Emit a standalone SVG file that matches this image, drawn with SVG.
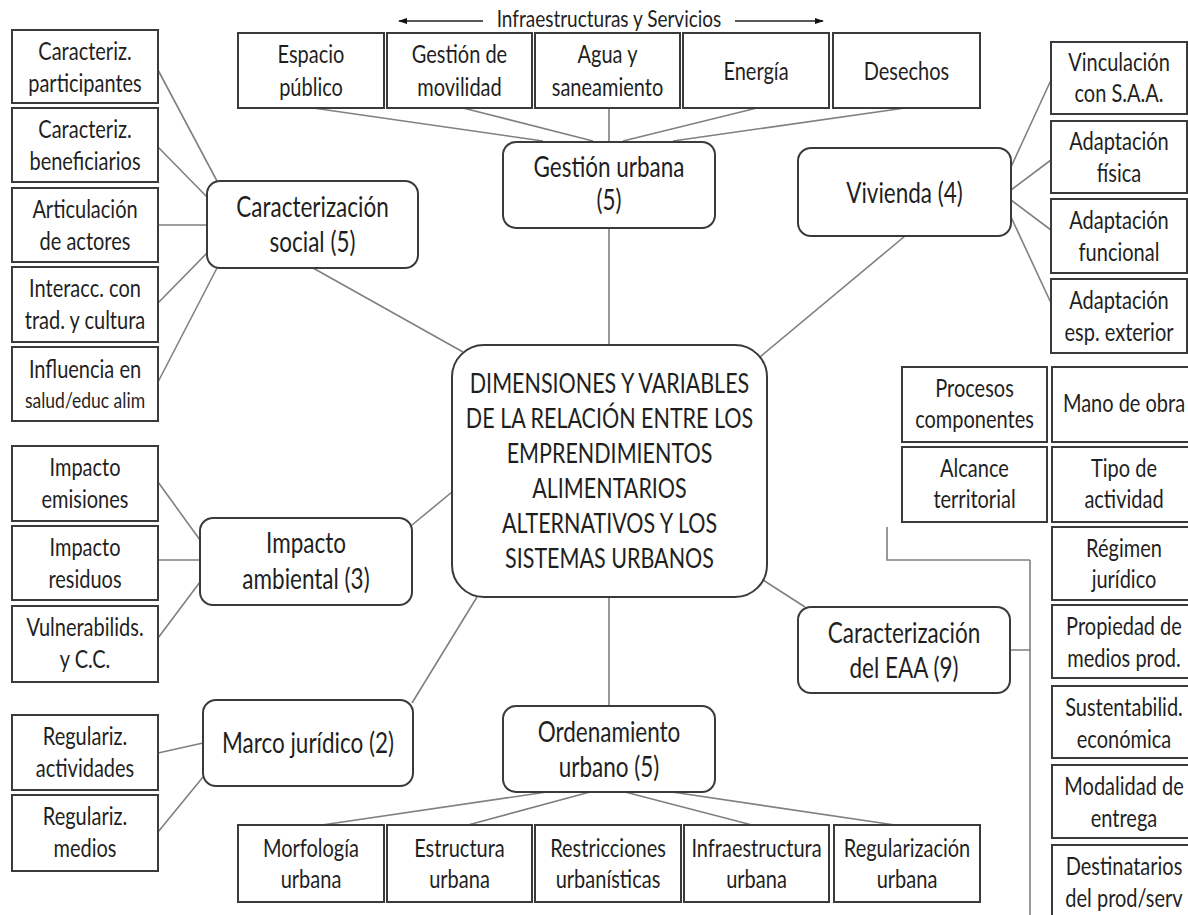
<svg xmlns="http://www.w3.org/2000/svg" width="1188" height="915" viewBox="0 0 1188 915">
<style>
  .bx{fill:#fff;stroke:#3a3a3a;stroke-width:2}
  .rn{fill:#fff;stroke:#3a3a3a;stroke-width:2}
  .cn{fill:none;stroke:#808080;stroke-width:1.6}
  text{font-family:Lato,"Open Sans","Liberation Sans",sans-serif;fill:#1f1f1f;text-anchor:middle}
  .s{font-size:20px}
  .m{font-size:22.5px}
  .c{font-size:21.5px}
  .l{font-size:19px}
  .xs{font-size:17.5px}
</style>
<defs>
  <marker id="ah" viewBox="0 0 10 10" refX="9" refY="5" markerWidth="7" markerHeight="7" orient="auto">
    <path d="M0,1.5 L10,5 L0,8.5 Z" fill="#111"/>
  </marker>
</defs>
<rect width="1188" height="915" fill="#fff"/>

<g id="connectors">
  <path class="cn" d="M313,108 L543,141 M463,108 L593,141 M609,108 L609,142 M757,108 L623,141 M905,108 L673,141 M609,228 L609,345"/>
  <path class="cn" d="M158,70 L217,181 M158,147 L207,197 M158,225 L207,225 M158,303 L207,253 M158,382 L217,268 M313,268 L463,352"/>
  <path class="cn" d="M1011,167 L1051,80 M1011,190 L1051,160 M1011,200 L1051,230 M1011,217 L1051,303 M905,236 L760,357"/>
  <path class="cn" d="M158,482 L200,540 M158,560 L200,560 M158,638 L200,582 M412,525 L452,492"/>
  <path class="cn" d="M158,753 L203,743 M158,832 L203,777 M412,703 L477,597"/>
  <path class="cn" d="M609,597 L609,706 M547,792 L322,825 M590,792 L468,825 M625,792 L752,825 M672,792 L895,825"/>
  <path class="cn" d="M763,580 L805,607 M1010,650 H1030 M1030,560 V915 M1030,560 H887 V527"/>
  <path d="M483,21 L399,21" fill="none" stroke="#222" stroke-width="1.3" marker-end="url(#ah)"/>
  <path d="M735,21 L823,21" fill="none" stroke="#222" stroke-width="1.3" marker-end="url(#ah)"/>
</g>

<g id="label-infra">
  <text class="l" transform="translate(609,27) scale(1,1.25)">Infraestructuras y Servicios</text>
</g>

<g id="n-espacio"><rect class="bx" x="238" y="33" width="146" height="75"/>
  <text class="s" transform="translate(311,63) scale(1,1.25)">Espacio</text>
  <text class="s" transform="translate(311,96) scale(1,1.25)">público</text></g>
<g id="n-movilidad"><rect class="bx" x="387" y="33" width="145" height="75"/>
  <text class="s" transform="translate(459.5,63) scale(1,1.25)">Gestión de</text>
  <text class="s" transform="translate(459.5,96) scale(1,1.25)">movilidad</text></g>
<g id="n-agua"><rect class="bx" x="535" y="33" width="145" height="75"/>
  <text class="s" transform="translate(607.5,63) scale(1,1.25)">Agua y</text>
  <text class="s" transform="translate(607.5,96) scale(1,1.25)">saneamiento</text></g>
<g id="n-energia"><rect class="bx" x="683" y="33" width="146" height="75"/>
  <text class="s" transform="translate(756,80) scale(1,1.25)">Energía</text></g>
<g id="n-desechos"><rect class="bx" x="833" y="33" width="147" height="75"/>
  <text class="s" transform="translate(906.5,80) scale(1,1.25)">Desechos</text></g>

<g id="n-gestion"><rect class="rn" x="503" y="142" width="212" height="86" rx="13"/>
  <text class="m" transform="translate(609,177) scale(1,1.25)">Gestión urbana</text>
  <text class="m" transform="translate(609,210) scale(1,1.25)">(5)</text></g>

<g id="n-participantes"><rect class="bx" x="12" y="30" width="146" height="73"/>
  <text class="s" transform="translate(85,60) scale(1,1.25)">Caracteriz.</text>
  <text class="s" transform="translate(85,92) scale(1,1.25)">participantes</text></g>
<g id="n-beneficiarios"><rect class="bx" x="12" y="108" width="146" height="74"/>
  <text class="s" transform="translate(85,138) scale(1,1.25)">Caracteriz.</text>
  <text class="s" transform="translate(85,170) scale(1,1.25)">beneficiarios</text></g>
<g id="n-articulacion"><rect class="bx" x="12" y="188" width="146" height="74"/>
  <text class="s" transform="translate(85,218) scale(1,1.25)">Articulación</text>
  <text class="s" transform="translate(85,250) scale(1,1.25)">de actores</text></g>
<g id="n-interacc"><rect class="bx" x="12" y="267" width="146" height="75"/>
  <text class="s" transform="translate(85,297) scale(1,1.25)">Interacc. con</text>
  <text class="s" transform="translate(85,329) scale(1,1.25)">trad. y cultura</text></g>
<g id="n-influencia"><rect class="bx" x="12" y="347" width="146" height="74"/>
  <text class="s" transform="translate(85,378) scale(1,1.25)">Influencia en</text>
  <text class="xs" transform="translate(85,408) scale(1,1.25)">salud/educ alim</text></g>

<g id="n-social"><rect class="rn" x="207" y="181" width="211" height="87" rx="13"/>
  <text class="m" transform="translate(312.5,217) scale(1,1.25)">Caracterización</text>
  <text class="m" transform="translate(312.5,252) scale(1,1.25)">social (5)</text></g>

<g id="n-vivienda"><rect class="rn" x="798" y="148" width="213" height="88" rx="13"/>
  <text class="m" transform="translate(904.5,203) scale(1,1.25)">Vivienda (4)</text></g>

<g id="n-vinculacion"><rect class="bx" x="1051" y="42" width="136" height="72"/>
  <text class="s" transform="translate(1119,71) scale(1,1.25)">Vinculación</text>
  <text class="s" transform="translate(1119,102) scale(1,1.25)">con S.A.A.</text></g>
<g id="n-fisica"><rect class="bx" x="1051" y="121" width="136" height="72"/>
  <text class="s" transform="translate(1119,150) scale(1,1.25)">Adaptación</text>
  <text class="s" transform="translate(1119,182) scale(1,1.25)">física</text></g>
<g id="n-funcional"><rect class="bx" x="1051" y="199" width="136" height="74"/>
  <text class="s" transform="translate(1119,229) scale(1,1.25)">Adaptación</text>
  <text class="s" transform="translate(1119,261) scale(1,1.25)">funcional</text></g>
<g id="n-exterior"><rect class="bx" x="1051" y="279" width="136" height="74"/>
  <text class="s" transform="translate(1119,309) scale(1,1.25)">Adaptación</text>
  <text class="s" transform="translate(1119,341) scale(1,1.25)">esp. exterior</text></g>

<g id="n-center"><rect class="rn" x="452" y="345" width="315" height="252" rx="32"/>
  <text class="c" transform="translate(609.5,393) scale(1,1.25)">DIMENSIONES Y VARIABLES</text>
  <text class="c" transform="translate(609.5,428) scale(1,1.25)">DE LA RELACIÓN ENTRE LOS</text>
  <text class="c" transform="translate(609.5,463) scale(1,1.25)">EMPRENDIMIENTOS</text>
  <text class="c" transform="translate(609.5,498) scale(1,1.25)">ALIMENTARIOS</text>
  <text class="c" transform="translate(609.5,533) scale(1,1.25)">ALTERNATIVOS Y LOS</text>
  <text class="c" transform="translate(609.5,568) scale(1,1.25)">SISTEMAS URBANOS</text></g>

<g id="n-emisiones"><rect class="bx" x="12" y="446" width="146" height="75"/>
  <text class="s" transform="translate(85,476) scale(1,1.25)">Impacto</text>
  <text class="s" transform="translate(85,508) scale(1,1.25)">emisiones</text></g>
<g id="n-residuos"><rect class="bx" x="12" y="526" width="146" height="74"/>
  <text class="s" transform="translate(85,556) scale(1,1.25)">Impacto</text>
  <text class="s" transform="translate(85,588) scale(1,1.25)">residuos</text></g>
<g id="n-vulnerab"><rect class="bx" x="12" y="606" width="146" height="76"/>
  <text class="s" transform="translate(85,636) scale(1,1.25)">Vulnerabilids.</text>
  <text class="s" transform="translate(85,668) scale(1,1.25)">y C.C.</text></g>

<g id="n-ambiental"><rect class="rn" x="200" y="518" width="212" height="87" rx="13"/>
  <text class="m" transform="translate(306,553) scale(1,1.25)">Impacto</text>
  <text class="m" transform="translate(306,589) scale(1,1.25)">ambiental (3)</text></g>

<g id="n-reg-act"><rect class="bx" x="12" y="715" width="146" height="75"/>
  <text class="s" transform="translate(85,745) scale(1,1.25)">Regulariz.</text>
  <text class="s" transform="translate(85,777) scale(1,1.25)">actividades</text></g>
<g id="n-reg-medios"><rect class="bx" x="12" y="795" width="146" height="76"/>
  <text class="s" transform="translate(85,825) scale(1,1.25)">Regulariz.</text>
  <text class="s" transform="translate(85,857) scale(1,1.25)">medios</text></g>

<g id="n-marco"><rect class="rn" x="203" y="700" width="210" height="86" rx="13"/>
  <text class="m" transform="translate(308,753) scale(1,1.25)">Marco jurídico (2)</text></g>

<g id="n-ordenamiento"><rect class="rn" x="503" y="706" width="212" height="86" rx="13"/>
  <text class="m" transform="translate(609,742) scale(1,1.25)">Ordenamiento</text>
  <text class="m" transform="translate(609,777) scale(1,1.25)">urbano (5)</text></g>

<g id="n-morfologia"><rect class="bx" x="238" y="825" width="146" height="77"/>
  <text class="s" transform="translate(311,857) scale(1,1.25)">Morfología</text>
  <text class="s" transform="translate(311,888) scale(1,1.25)">urbana</text></g>
<g id="n-estructura"><rect class="bx" x="387" y="825" width="145" height="77"/>
  <text class="s" transform="translate(459.5,857) scale(1,1.25)">Estructura</text>
  <text class="s" transform="translate(459.5,888) scale(1,1.25)">urbana</text></g>
<g id="n-restricciones"><rect class="bx" x="535" y="825" width="146" height="77"/>
  <text class="s" transform="translate(608,857) scale(1,1.25)">Restricciones</text>
  <text class="s" transform="translate(608,888) scale(1,1.25)">urbanísticas</text></g>
<g id="n-infraestructura"><rect class="bx" x="684" y="825" width="145" height="77"/>
  <text class="s" transform="translate(756.5,857) scale(1,1.25)">Infraestructura</text>
  <text class="s" transform="translate(756.5,888) scale(1,1.25)">urbana</text></g>
<g id="n-regularizacion"><rect class="bx" x="834" y="825" width="146" height="77"/>
  <text class="s" transform="translate(907,857) scale(1,1.25)">Regularización</text>
  <text class="s" transform="translate(907,888) scale(1,1.25)">urbana</text></g>

<g id="n-eaa"><rect class="rn" x="798" y="607" width="212" height="86" rx="13"/>
  <text class="m" transform="translate(904,643) scale(1,1.25)">Caracterización</text>
  <text class="m" transform="translate(904,678) scale(1,1.25)">del EAA (9)</text></g>

<g id="n-procesos"><rect class="bx" x="902" y="367" width="145" height="75"/>
  <text class="s" transform="translate(974.5,397) scale(1,1.25)">Procesos</text>
  <text class="s" transform="translate(974.5,428) scale(1,1.25)">componentes</text></g>
<g id="n-alcance"><rect class="bx" x="902" y="447" width="145" height="75"/>
  <text class="s" transform="translate(974.5,477) scale(1,1.25)">Alcance</text>
  <text class="s" transform="translate(974.5,508) scale(1,1.25)">territorial</text></g>
<g id="n-mano"><rect class="bx" x="1052" y="367" width="144" height="75"/>
  <text class="s" transform="translate(1124,412) scale(1,1.25)">Mano de obra</text></g>
<g id="n-tipo"><rect class="bx" x="1052" y="447" width="144" height="75"/>
  <text class="s" transform="translate(1124,477) scale(1,1.25)">Tipo de</text>
  <text class="s" transform="translate(1124,508) scale(1,1.25)">actividad</text></g>
<g id="n-regimen"><rect class="bx" x="1052" y="527" width="144" height="73"/>
  <text class="s" transform="translate(1124,557) scale(1,1.25)">Régimen</text>
  <text class="s" transform="translate(1124,588) scale(1,1.25)">jurídico</text></g>
<g id="n-propiedad"><rect class="bx" x="1052" y="605" width="144" height="73"/>
  <text class="s" transform="translate(1124,635) scale(1,1.25)">Propiedad de</text>
  <text class="s" transform="translate(1124,667) scale(1,1.25)">medios prod.</text></g>
<g id="n-sustentab"><rect class="bx" x="1052" y="686" width="144" height="72"/>
  <text class="s" transform="translate(1124,716) scale(1,1.25)">Sustentabilid.</text>
  <text class="s" transform="translate(1124,748) scale(1,1.25)">económica</text></g>
<g id="n-modalidad"><rect class="bx" x="1052" y="765" width="144" height="73"/>
  <text class="s" transform="translate(1124,795) scale(1,1.25)">Modalidad de</text>
  <text class="s" transform="translate(1124,827) scale(1,1.25)">entrega</text></g>
<g id="n-destinatarios"><rect class="bx" x="1052" y="845" width="144" height="80"/>
  <text class="s" transform="translate(1124,875) scale(1,1.25)">Destinatarios</text>
  <text class="s" transform="translate(1124,907) scale(1,1.25)">del prod/serv</text></g>
</svg>
